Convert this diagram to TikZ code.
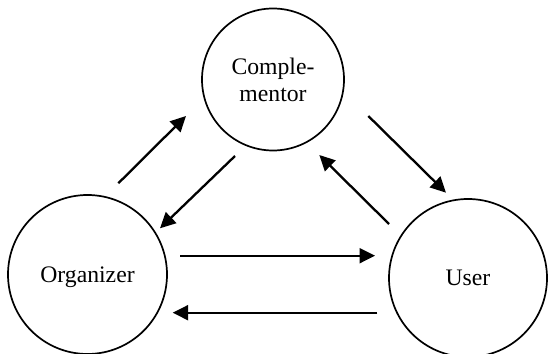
\documentclass[tikz,border=0pt]{standalone}
\usepackage{fontspec}
\setmainfont{Liberation Serif}
\usetikzlibrary{arrows.meta}
\begin{document}
\begin{tikzpicture}[x=1pt,y=1pt,
  actor/.style={draw,circle,line width=1.7pt,inner sep=0pt,align=center,
    font=\fontsize{23.7}{27}\selectfont},
  flow/.style={line width=2.3pt,-{Triangle[length=15.5pt,width=15pt]}}]
\useasboundingbox (0,0) rectangle (548,353);
\node[actor,minimum size=142pt] (comp) at (273,273.5) {Comple-\\mentor};
\node[actor,minimum size=159pt,text depth=0pt] (org) at (87.5,78.5) {Organizer};
\node[actor,minimum size=158pt,text depth=0pt] (user) at (468,75) {User};
% arrow end points
\coordinate (a1s) at (118.3,169.7); \coordinate (a1e) at (186,237);
\coordinate (a2s) at (235,197);     \coordinate (a2e) at (160,124.7);
\coordinate (a3s) at (368.3,237);   \coordinate (a3e) at (446,160.3);
\coordinate (a4s) at (389,129);     \coordinate (a4e) at (319.3,198);
\coordinate (a5s) at (180,97.3);    \coordinate (a5e) at (375,97.3);
\coordinate (a6s) at (377.3,40.3);  \coordinate (a6e) at (172.7,40.3);
\draw[flow] (a1s) -- (a1e);
\draw[flow] (a2s) -- (a2e);
\draw[flow] (a3s) -- (a3e);
\draw[flow] (a4s) -- (a4e);
\draw[flow] (a5s) -- (a5e);
\draw[flow] (a6s) -- (a6e);
\end{tikzpicture}
\end{document}
